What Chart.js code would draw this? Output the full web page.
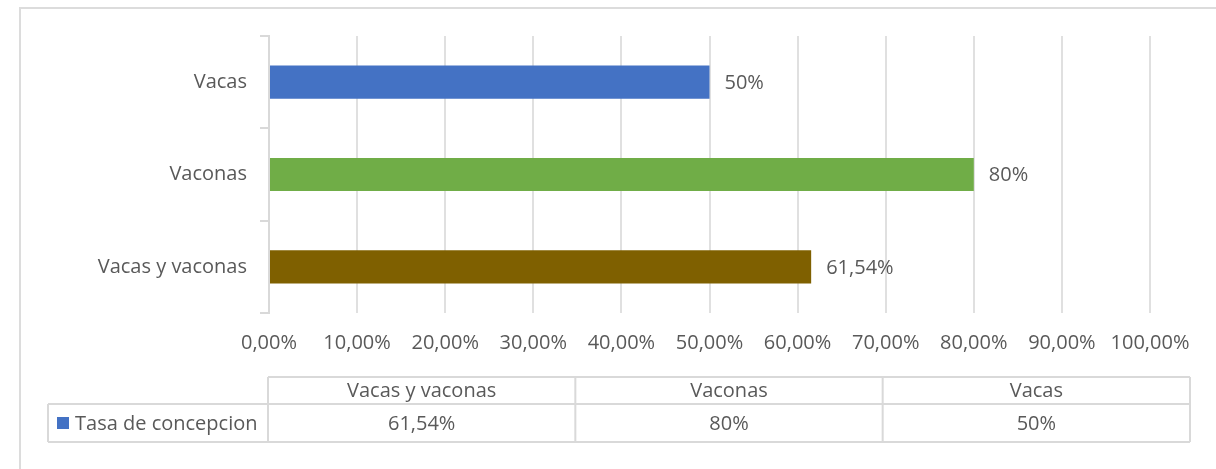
<!DOCTYPE html>
<html>
<head>
<meta charset="utf-8">
<title>Tasa de concepcion</title>
<script src="https://cdn.jsdelivr.net/npm/chart.js@4.4.1/dist/chart.umd.min.js"></script>
<style>
    html, body { margin: 0; padding: 0; background: #ffffff; }
    canvas { display: block; }
</style>
</head>
<body>
<canvas id="conceptionChart" width="1216" height="469"></canvas>
<script>
// Data (Excel order: first category is drawn at the bottom)
const categories = ['Vacas y vaconas', 'Vaconas', 'Vacas'];
const rateValues = [61.54, 80, 50];
const barColors = ['#7F6000', '#70AD47', '#4472C4'];
const seriesName = 'Tasa de concepcion';
const seriesColor = '#4472C4';
const xTickValues = [0, 10, 20, 30, 40, 50, 60, 70, 80, 90, 100];

const FONT = '"Open Sans", "Noto Sans", sans-serif';
const TEXT_COLOR = '#595959';
const LINE_COLOR = '#d9d9d9';

// Number formats like the spreadsheet (comma decimal)
function formatTick(v) {
    return v.toFixed(2).replace('.', ',') + '%';
}
function formatValue(v) {
    return String(v).replace('.', ',') + '%';
}

/**
 * Outer frame of the chart object
 */
const framePlugin = {
    id: 'frame',
    beforeDraw(chart) {
        const ctx = chart.ctx;
        ctx.save();
        ctx.strokeStyle = '#dcdcdc';
        ctx.lineWidth = 2;
        ctx.strokeRect(20, 8, 1240, 500);
        ctx.restore();
    }
};

/**
 * Value labels to the right of each bar
 */
const barLabelPlugin = {
    id: 'barLabels',
    afterDatasetsDraw(chart) {
        const ctx = chart.ctx;
        const meta = chart.getDatasetMeta(0);
        ctx.save();
        ctx.font = '20px ' + FONT;
        ctx.fillStyle = TEXT_COLOR;
        ctx.textAlign = 'left';
        ctx.textBaseline = 'middle';
        meta.data.forEach((bar, i) => {
            ctx.fillText(formatValue(rateValues[i]), bar.x + 15, bar.y + 1);
        });
        ctx.restore();
    }
};

/**
 * Data table under the axis
 */
const dataTablePlugin = {
    id: 'dataTable',
    afterDraw(chart) {
        const ctx = chart.ctx;
        const left = chart.chartArea.left - 1;
        const right = 1190;
        const legendLeft = 48;
        const top = 377, mid = 404, bottom = 442;
        const colW = (right - left) / categories.length;

        ctx.save();
        ctx.strokeStyle = LINE_COLOR;
        ctx.lineWidth = 2;
        ctx.beginPath();
        // horizontal lines
        ctx.moveTo(left, top); ctx.lineTo(right, top);
        ctx.moveTo(legendLeft, mid); ctx.lineTo(right, mid);
        ctx.moveTo(legendLeft, bottom); ctx.lineTo(right, bottom);
        // vertical lines
        ctx.moveTo(legendLeft, mid); ctx.lineTo(legendLeft, bottom);
        for (let i = 0; i <= categories.length; i++) {
            const x = left + i * colW;
            ctx.moveTo(x, top); ctx.lineTo(x, bottom);
        }
        ctx.stroke();

        ctx.font = '20px ' + FONT;
        ctx.fillStyle = TEXT_COLOR;
        ctx.textBaseline = 'middle';
        ctx.textAlign = 'center';
        categories.forEach((cat, i) => {
            const cx = left + (i + 0.5) * colW;
            ctx.fillText(cat, cx, (top + mid) / 2 + 1);
            ctx.fillText(formatValue(rateValues[i]), cx, (mid + bottom) / 2 + 1);
        });

        // legend key
        ctx.fillStyle = seriesColor;
        ctx.fillRect(57, 417, 12, 12);
        ctx.fillStyle = TEXT_COLOR;
        ctx.textAlign = 'left';
        ctx.fillText(seriesName, 75, (mid + bottom) / 2 + 1);
        ctx.restore();
    }
};

const ctx = document.getElementById('conceptionChart').getContext('2d');
const conceptionChart = new Chart(ctx, {
    type: 'bar',
    data: {
        labels: categories,
        datasets: [{
            label: seriesName,
            data: rateValues,
            backgroundColor: barColors,
            borderWidth: 0,
            categoryPercentage: 1,
            barPercentage: 0.36
        }]
    },
    options: {
        indexAxis: 'y',
        responsive: false,
        animation: false,
        layout: {
            padding: { top: 36, right: 66, bottom: 0, left: 0 }
        },
        scales: {
            x: {
                min: 0,
                max: 100,
                afterFit(scale) { scale.height = 156; },
                afterBuildTicks(scale) {
                    scale.ticks = xTickValues.map(v => ({ value: v }));
                },
                grid: {
                    color: '#e0e0e0',
                    lineWidth: 2,
                    drawTicks: false
                },
                border: { display: false },
                ticks: {
                    padding: 18,
                    color: TEXT_COLOR,
                    font: { family: FONT, size: 20 },
                    maxRotation: 0,
                    autoSkip: false,
                    callback: function(value) {
                        return formatTick(value);
                    }
                }
            },
            y: {
                reverse: true,
                afterFit(scale) { scale.width = 269; },
                grid: {
                    drawOnChartArea: false,
                    drawTicks: true,
                    tickLength: 9,
                    color: LINE_COLOR,
                    lineWidth: 2
                },
                border: { display: true, color: LINE_COLOR, width: 2 },
                ticks: {
                    padding: 13,
                    color: TEXT_COLOR,
                    font: { family: FONT, size: 20 }
                }
            }
        },
        plugins: {
            legend: { display: false },
            tooltip: { enabled: false }
        }
    },
    plugins: [framePlugin, barLabelPlugin, dataTablePlugin]
});
</script>
</body>
</html>
